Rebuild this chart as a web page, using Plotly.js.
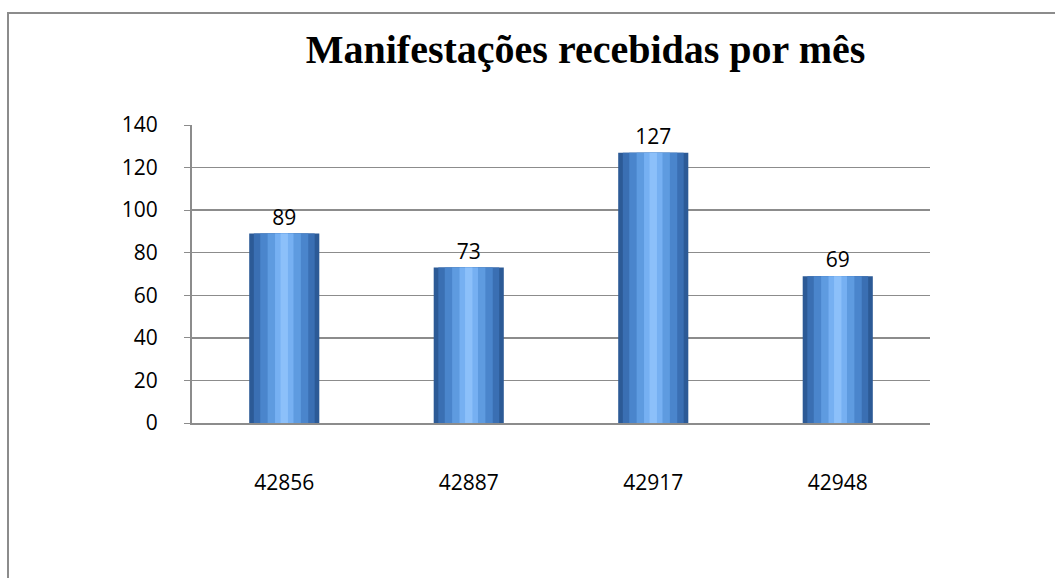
<!DOCTYPE html>
<html>
<head>
<meta charset="utf-8">
<script src="https://cdn.plot.ly/plotly-3.0.1.min.js"></script>
<style>
  html, body { margin: 0; padding: 0; background: #fff; }
  #wrap { position: relative; width: 1055px; height: 578px; overflow: hidden; }
  #chart { position: absolute; left: 0; top: 0; width: 1055px; height: 578px; }
  #frame { position: absolute; left: 7px; top: 12px; width: 1100px; height: 600px;
           border-left: 2px solid #8c8c8c; border-top: 2px solid #8c8c8c; pointer-events: none; }
</style>
</head>
<body>
<div id="wrap">
  <div id="chart"></div>
  <div id="frame"></div>
</div>
<script>
// Data
const categories = ["42856", "42887", "42917", "42948"];
const values = [89, 73, 127, 69];
const titleText = "Manifestações recebidas por mês";
const yTicks = [0, 20, 40, 60, 80, 100, 120, 140];

// Cylinder shading layers (outer to inner)
const shades = [
  { w: 0.38, c: "#2c5a96" },
  { w: 0.33, c: "#3a6fb3" },
  { w: 0.26, c: "#4a85cc" },
  { w: 0.18, c: "#5e9be0" },
  { w: 0.10, c: "#76b0f2" },
  { w: 0.04, c: "#8cc0fa" }
];

const traces = shades.map((s, i) => ({
  type: "bar",
  x: categories,
  y: values,
  width: categories.map(() => s.w),
  marker: { color: s.c, line: { width: 0 } },
  hoverinfo: i === 0 ? "x+y" : "skip",
  showlegend: false,
  text: i === 0 ? values.map(String) : undefined,
  textposition: i === 0 ? "outside" : "none",
  cliponaxis: false,
  textfont: { family: "Open Sans, Liberation Sans, sans-serif", size: 21, color: "#000" }
}));

const layout = {
  width: 1055,
  height: 578,
  paper_bgcolor: "#ffffff",
  plot_bgcolor: "#ffffff",
  barmode: "overlay",
  margin: { l: 192, r: 125, t: 125, b: 155 },
  title: {
    text: "<b>" + titleText + "</b>",
    x: 0.555,
    xanchor: "center",
    y: 0.915,
    yanchor: "middle",
    font: { family: "Liberation Serif, Times New Roman, serif", size: 40, color: "#000" }
  },
  xaxis: {
    type: "category",
    showgrid: false,
    showline: true,
    linecolor: "#8c8c8c",
    linewidth: 2,
    ticks: "",
    tickfont: { family: "Open Sans, Liberation Sans, sans-serif", size: 21, color: "#000" },
    ticklabelstandoff: 40
  },
  yaxis: {
    range: [0, 140],
    tickvals: yTicks,
    showgrid: true,
    gridcolor: "#8c8c8c",
    gridwidth: 1.5,
    showline: true,
    linecolor: "#8c8c8c",
    linewidth: 2,
    ticks: "outside",
    ticklen: 6,
    tickcolor: "#8c8c8c",
    zeroline: false,
    ticklabelstandoff: 22,
    tickfont: { family: "Open Sans, Liberation Sans, sans-serif", size: 21, color: "#000" }
  }
};

Plotly.newPlot("chart", traces, layout, { displayModeBar: false, staticPlot: true });
</script>
</body>
</html>
